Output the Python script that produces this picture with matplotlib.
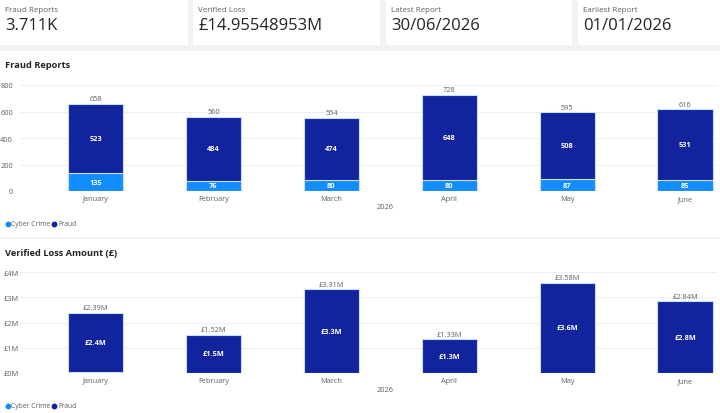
import matplotlib.pyplot as plt
from matplotlib.patches import Rectangle
from matplotlib.lines import Line2D
import numpy as np

plt.rcParams['font.family'] = ['Open Sans', 'DejaVu Sans']

# KPI cards
kpi_titles = ['Fraud Reports', 'Verified Loss', 'Latest Report', 'Earliest Report']
kpi_values = ['3.711K', '£14.95548953M', '30/06/2026', '01/01/2026']

months = ['January', 'February', 'March', 'April', 'May', 'June']

# report counts
cyber_reports = [135, 76, 80, 80, 87, 85]
fraud_reports = [523, 484, 474, 648, 508, 531]

# verified loss in £M
cyber_loss = [0.03, 0.01, 0.01, 0.01, 0.01, 0.01]
fraud_loss = [2.36, 1.51, 3.30, 1.32, 3.57, 2.83]
loss_totals = ['£2.39M', '£1.52M', '£3.31M', '£1.33M', '£3.58M', '£2.84M']
fraud_loss_labels = ['£2.4M', '£1.5M', '£3.3M', '£1.3M', '£3.6M', '£2.8M']

W, H = 720, 414
CYBER = '#118DFF'
FRAUD = '#12239E'
GREY = '#605E5C'
DARK = '#252423'

fig = plt.figure(figsize=(7.2, 4.14), dpi=100)
fig.patch.set_facecolor('#F2F2F2')


def px_box(x0, y0, x1, y1):
    # pixel box (top-left origin) -> figure fraction rect
    return [x0 / W, 1 - y1 / H, (x1 - x0) / W, (y1 - y0) / H]


def panel(x0, y0, x1, y1):
    r = px_box(x0, y0, x1, y1)
    fig.patches.append(Rectangle((r[0], r[1]), r[2], r[3], transform=fig.transFigure,
                                 facecolor='white', edgecolor='none', zorder=-5))


# cards
card_x = [(0, 188), (193, 380), (386, 572), (578, 720)]
for (x0, x1), t, v in zip(card_x, kpi_titles, kpi_values):
    panel(x0, 0, x1, 46)
    fig.text((x0 + 5) / W, 1 - 11 / H, t, fontsize=5.8, color=GREY, va='center')
    fig.text((x0 + 5) / W, 1 - 26 / H, v, fontsize=12, color=DARK, va='center', fontweight='medium')

panel(0, 52, 720, 238)
panel(0, 240, 720, 414)

x = np.arange(len(months))
bw = 0.47


def bar_chart(rect, cyber, fraud, ymax, ticks, ticklabels, inner_cyber, inner_fraud, totals,
              left_ticks=False):
    ax = fig.add_axes(rect)
    ax.set_facecolor('none')
    ax.bar(x, cyber, bw, color=CYBER, edgecolor='#C8DDF8', linewidth=0.8, zorder=3)
    ax.bar(x, fraud, bw, bottom=cyber, color=FRAUD, edgecolor='#C8DDF8', linewidth=0.8, zorder=3)
    ax.set_xlim(-0.64, 5.27)
    ax.set_ylim(0, ymax)
    ax.set_yticks(ticks)
    ax.set_yticklabels(ticklabels)
    ax.set_xticks(x)
    ax.set_xticklabels(months)
    ax.tick_params(length=0, labelsize=5.3, labelcolor=GREY, pad=3)
    if left_ticks:
        ax.tick_params(axis='y', pad=11.5)
        for lab in ax.get_yticklabels():
            lab.set_horizontalalignment('left')
    else:
        ax.tick_params(axis='y', pad=5)
    ax.grid(axis='y', color='#EDEDED', linewidth=0.6, zorder=0)
    for s in ax.spines.values():
        s.set_visible(False)
    for i in range(len(months)):
        tot = cyber[i] + fraud[i]
        ax.text(x[i], tot + ymax * 0.015, totals[i], ha='center', va='bottom',
                fontsize=5.3, color=GREY, clip_on=False)
        ax.text(x[i], cyber[i] + fraud[i] / 2, inner_fraud[i], ha='center', va='center',
                fontsize=5.3, color='white', fontweight='bold')
        if inner_cyber is not None:
            ax.text(x[i], cyber[i] / 2, inner_cyber[i], ha='center', va='center',
                    fontsize=5.3, color='white', fontweight='bold')
    return ax


tot_reports = [str(c + f) for c, f in zip(cyber_reports, fraud_reports)]
bar_chart(px_box(20, 86, 717, 192), cyber_reports, fraud_reports, 800,
          [0, 200, 400, 600, 800], ['0', '200', '400', '600', '800'],
          [str(v) for v in cyber_reports], [str(v) for v in fraud_reports], tot_reports)

bar_chart(px_box(20, 273, 717, 374), cyber_loss, fraud_loss, 4,
          [0, 1, 2, 3, 4], ['£0M', '£1M', '£2M', '£3M', '£4M'],
          None, fraud_loss_labels, loss_totals, left_ticks=True)

# titles, axis titles, legends
fig.text(5 / W, 1 - 66 / H, 'Fraud Reports', fontsize=6.7, color=DARK, fontweight='bold', va='center')
fig.text(5 / W, 1 - 254 / H, 'Verified Loss Amount (£)', fontsize=6.7, color=DARK, fontweight='bold', va='center')
for yy in (208, 391):
    fig.text(385 / W, 1 - yy / H, '2026', fontsize=5.3, color=GREY, ha='center', va='center')
for yy in (225, 407):
    yf = 1 - yy / H
    fig.add_artist(Line2D([7.5 / W], [yf], marker='o', markersize=3.2, color=CYBER, transform=fig.transFigure))
    fig.text(11 / W, yf, 'Cyber Crime', fontsize=4.9, color=GREY, va='center')
    fig.add_artist(Line2D([54.5 / W], [yf], marker='o', markersize=3.2, color=FRAUD, transform=fig.transFigure))
    fig.text(58 / W, yf, 'Fraud', fontsize=4.9, color=GREY, va='center')

fig.savefig('out.png', dpi=100, facecolor=fig.get_facecolor())
